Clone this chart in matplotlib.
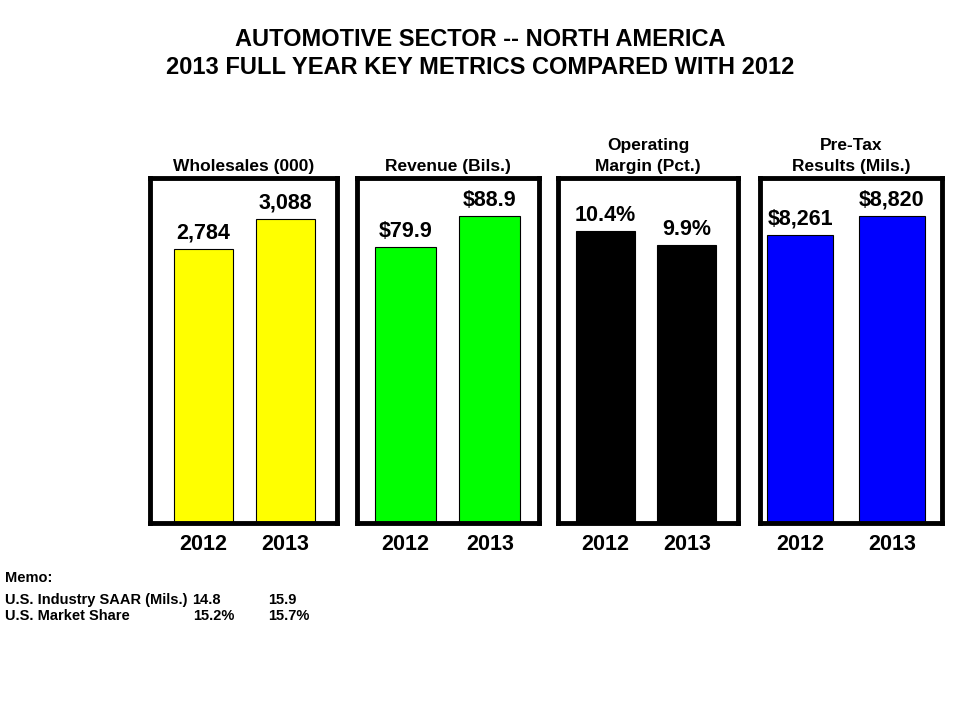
import matplotlib.pyplot as plt

plt.rcParams['font.family'] = ['Liberation Sans', 'DejaVu Sans']
plt.rcParams['font.weight'] = 'bold'
plt.rcParams['axes.titleweight'] = 'bold'

years = ['2012', '2013']
panel_titles = ['Wholesales (000)', 'Revenue (Bils.)', 'Operating\nMargin (Pct.)', 'Pre-Tax\nResults (Mils.)']
wholesales = [2784, 3088]
revenue = [79.9, 88.9]
margin = [10.4, 9.9]
pretax = [8261, 8820]
value_labels = [['2,784', '3,088'], ['$79.9', '$88.9'], ['10.4%', '9.9%'], ['$8,261', '$8,820']]
series = [wholesales, revenue, margin, pretax]
colors = ['#FFFF00', '#00FF00', '#000000', '#0000FF']
ymax = [3500, 100, 12.3, 9900]

memo_rows = ['U.S. Industry SAAR (Mils.)', 'U.S. Market Share']
memo_2012 = ['14.8', '15.2%']
memo_2013 = ['15.9', '15.7%']

# panel boxes in pixels (left, right)
boxes = [(150, 337), (357, 539), (558, 738), (760, 942)]
xlims = [(-0.65, 1.63), (-0.57, 1.58), (-0.58, 1.63), (-0.44, 1.55)]
W, H = 960, 720
top, bot = 178, 523

fig = plt.figure(figsize=(9.6, 7.2), dpi=100)
fig.text(0.5, 1 - 40 / H, 'AUTOMOTIVE SECTOR -- NORTH AMERICA', ha='center', va='center', fontsize=17)
fig.text(0.5, 1 - 68 / H, '2013 FULL YEAR KEY METRICS COMPARED WITH 2012', ha='center', va='center', fontsize=17)

for i in range(4):
    l, r = boxes[i]
    ax = fig.add_axes([l / W, 1 - bot / H, (r - l) / W, (bot - top) / H])
    ax.bar([0, 1], series[i], width=0.72, color=colors[i], edgecolor='black', linewidth=0.8)
    ax.set_xlim(xlims[i])
    ax.set_ylim(0, ymax[i])
    for j in range(2):
        ax.text(j, series[i][j] + ymax[i] * 0.015, value_labels[i][j], ha='center', va='bottom', fontsize=15.5)
    ax.set_xticks([0, 1])
    ax.set_xticklabels(years, fontsize=15.5)
    ax.tick_params(axis='x', length=0, pad=8)
    ax.set_yticks([])
    for s in ax.spines.values():
        s.set_linewidth(3.5)
    ax.set_title(panel_titles[i], fontsize=12.5, pad=5, linespacing=1.5)

fig.text(5 / W, 1 - 578 / H, 'Memo:', fontsize=10.5, va='center')
for k in range(2):
    y = 1 - (600 + 16 * k) / H
    fig.text(5 / W, y, memo_rows[k], fontsize=10.5, va='center')
    fig.text((192 + k) / W, y, memo_2012[k], fontsize=10.5, va='center')
    fig.text(268 / W, y, memo_2013[k], fontsize=10.5, va='center')

fig.savefig('out.png', dpi=100)
